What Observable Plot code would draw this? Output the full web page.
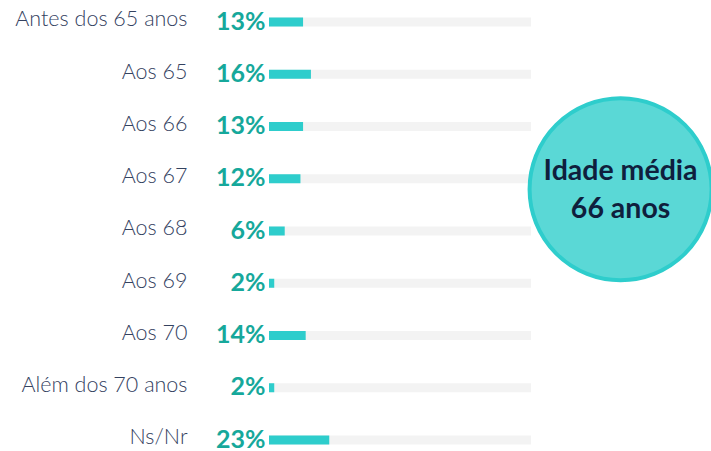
<!DOCTYPE html>
<html><head><meta charset="utf-8">
<script src="https://cdn.jsdelivr.net/npm/d3@7"></script>
<script src="https://cdn.jsdelivr.net/npm/@observablehq/plot@0.6"></script>
<style>
body{margin:0;background:#fff;}
svg{display:block;}
</style></head>
<body><div id="chart"></div>
<script>
const categories = ["Antes dos 65 anos","Aos 65","Aos 66","Aos 67","Aos 68","Aos 69","Aos 70","Além dos 70 anos","Ns/Nr"];
const values = [13,16,13,12,6,2,14,2,23];
const valueLabels = ["13%","16%","13%","12%","6%","2%","14%","2%","23%"];
const badgeLines = ["Idade média","66 anos"];
const badgeValue = 134; // position along the x scale
const badgeRow = "Aos 67";

const data = categories.map((c,i)=>({cat:c, v:values[i], lab:valueLabels[i]}));
const step = 52.25;
const chart = Plot.plot({
  width:711, height:451,
  margin:0,
  style:{background:"#fff", overflow:"visible"},
  x:{domain:[0,100], range:[269,531], axis:null},
  y:{type:"band", domain:categories, range:[22-step/2, 440+step/2], padding:0, round:false, axis:null},
  marks:[
    Plot.barX(data,{y:"cat", x1:0, x2:100, fill:"#f3f3f3", insetTop:(step-9)/2, insetBottom:(step-9)/2}),
    Plot.barX(data,{y:"cat", x1:0, x2:"v", fill:"#2ecdcc", insetTop:(step-9)/2, insetBottom:(step-9)/2}),
    Plot.text(data,{y:"cat", x:0, text:"cat", textAnchor:"end", dx:-82, dy:-3, fontSize:21.5, fontWeight:300, fill:"#34425f", fontFamily:"Lato", letterSpacing:"1.35px"}),
    Plot.text(data,{y:"cat", x:0, text:"lab", textAnchor:"end", dx:-4, dy:-1, fontSize:25, fontWeight:700, fill:"#16a89b", fontFamily:"Lato"}),
    Plot.dot([0],{x:()=>badgeValue, y:()=>badgeRow, dy:10, r:91, fill:"#5ad8d6", stroke:"#2ecdcc", strokeWidth:4}),
    Plot.text([0],{x:()=>badgeValue, y:()=>badgeRow, dy:-8, text:()=>badgeLines[0], fontSize:28.5, fontWeight:700, fill:"#0f1f3d", fontFamily:"Lato", letterSpacing:"-0.6px"}),
    Plot.text([0],{x:()=>badgeValue, y:()=>badgeRow, dy:30, text:()=>badgeLines[1], fontSize:28.5, fontWeight:700, fill:"#0f1f3d", fontFamily:"Lato"})
  ]
});
document.getElementById("chart").append(chart);
</script></body></html>
